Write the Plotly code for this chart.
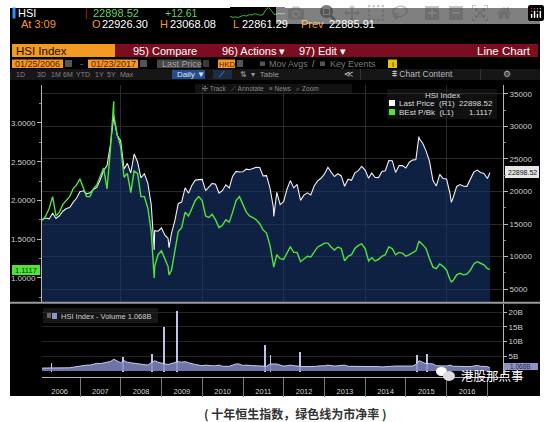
import plotly.graph_objects as go
import pandas as pd

W, H = 550, 422

# ---- data -------------------------------------------------------------
start_date = "2006-01-25"
end_date = "2017-01-23"
month_ends = pd.date_range("2006-01-31", "2016-12-31", freq="ME")

# HSI last price, month-end closes 2006-01 .. 2016-12
price_monthly = [
    15753, 15918, 15805, 16661, 15857, 16267, 16971, 17392, 17543, 18324, 18960, 19965,
    20106, 19651, 19801, 20319, 20635, 21773, 23185, 23984, 27143, 31352, 28643, 27813,
    23456, 24332, 22849, 25755, 24533, 22102, 22731, 21262, 18016, 13969, 13888, 14387,
    13278, 12812, 13576, 15521, 18171, 18379, 20573, 19724, 20955, 21753, 21822, 21873,
    20122, 20609, 21239, 21108, 19765, 20129, 21030, 20537, 22358, 23096, 23008, 23035,
    23447, 23338, 23528, 23720, 23684, 22398, 22440, 20535, 17592, 19864, 17989, 18434,
    20390, 21680, 20556, 21094, 18630, 19441, 19796, 19482, 20840, 21642, 22030, 22657,
    23730, 23020, 22300, 22737, 22392, 20803, 21883, 21731, 22860, 23206, 23881, 23306,
    22035, 22837, 22151, 22134, 23082, 23191, 24757, 24742, 22933, 23998, 23987, 23605,
    24507, 24823, 24901, 28133, 27424, 26250, 24636, 21670, 20846, 22640, 21996, 21914,
    19683, 19112, 20777, 21067, 20815, 20794, 21891, 22977, 23297, 22935, 22790, 22001,
]
# BEst P/Bk, same months
pb_monthly = [
    1.75, 1.80, 1.90, 2.05, 1.80, 1.85, 1.95, 2.00, 2.05, 2.15, 2.20, 2.28,
    2.15, 2.05, 2.05, 2.15, 2.20, 2.30, 2.42, 2.15, 2.65, 3.10, 2.85, 2.70,
    2.30, 2.35, 2.10, 2.38, 2.35, 2.05, 2.05, 1.90, 1.60, 1.15, 1.30, 1.35,
    1.25, 1.15, 1.10, 1.35, 1.60, 1.65, 1.85, 1.80, 1.90, 2.00, 2.05, 2.00,
    1.80, 1.78, 1.82, 1.75, 1.65, 1.68, 1.75, 1.72, 1.85, 2.00, 2.05, 1.95,
    1.85, 1.80, 1.78, 1.75, 1.70, 1.62, 1.58, 1.42, 1.18, 1.30, 1.25, 1.24,
    1.32, 1.40, 1.33, 1.33, 1.21, 1.25, 1.28, 1.27, 1.34, 1.40, 1.42, 1.45,
    1.45, 1.40, 1.36, 1.40, 1.38, 1.22, 1.28, 1.30, 1.38, 1.42, 1.44, 1.38,
    1.22, 1.26, 1.22, 1.24, 1.28, 1.30, 1.40, 1.38, 1.30, 1.33, 1.32, 1.28,
    1.30, 1.32, 1.35, 1.47, 1.43, 1.38, 1.25, 1.14, 1.12, 1.18, 1.15, 1.10,
    0.98, 0.97, 1.04, 1.06, 1.04, 1.05, 1.10, 1.18, 1.21, 1.19, 1.17, 1.12,
]
# intra-month turning points
extreme_dates = ["2007-10-30", "2008-10-27", "2009-03-09", "2011-10-04", "2015-04-27", "2016-02-12"]
extreme_price = [31638, 11016, 11345, 16170, 28443, 18320]
extreme_pb = [3.28, 1.00, 1.04, 1.14, 1.47, 0.95]
start_price, start_pb = 15600, 1.75
last_price, last_pb = 22898.52, 1.1117

# HSI volume (billions), monthly level and single-day spikes
volume_monthly = [
    1.0, 1.0, 1.0, 1.2, 1.2, 1.0, 1.0, 1.0, 1.1, 1.3, 1.5, 1.6,
    1.8, 2.0, 2.0, 2.2, 2.6, 2.5, 2.8, 3.0, 3.2, 4.0, 3.5, 2.8,
    3.5, 3.0, 2.8, 2.6, 2.5, 2.2, 2.2, 2.0, 2.8, 3.5, 3.0, 2.6,
    2.4, 2.2, 2.5, 2.8, 3.2, 3.0, 3.2, 2.8, 2.4, 2.2, 2.0, 1.8,
    2.0, 1.8, 1.8, 1.8, 2.0, 1.6, 1.6, 1.6, 2.0, 2.4, 2.4, 1.9,
    2.0, 1.8, 1.8, 1.8, 1.8, 1.7, 1.6, 2.4, 2.5, 2.4, 2.0, 1.7,
    1.8, 2.0, 1.8, 1.6, 1.6, 1.5, 1.5, 1.4, 1.5, 1.7, 1.7, 1.8,
    2.0, 1.8, 1.7, 1.8, 1.8, 2.0, 1.6, 1.6, 1.7, 1.6, 1.7, 1.6,
    1.6, 1.5, 1.6, 1.5, 1.4, 1.5, 1.7, 1.8, 1.7, 1.7, 1.7, 1.8,
    1.8, 1.7, 2.2, 3.5, 3.0, 2.5, 2.5, 2.4, 1.8, 1.8, 1.6, 1.7,
    2.0, 1.6, 1.6, 1.5, 1.4, 1.5, 1.5, 1.7, 1.9, 1.6, 1.6, 1.5,
]
start_volume, last_volume = 1.0, 1.068
spike_dates = ["2006-04-20", "2008-01-22", "2008-10-10", "2009-01-20", "2009-05-20",
               "2011-07-20", "2011-09-05", "2012-05-25", "2015-04-09", "2015-07-08"]
spike_volume = [3.0, 5.0, 6.0, 15.0, 20.5, 9.0, 5.5, 6.5, 5.5, 5.8]

# intraday sparkline in the header
spark = [3.0, 2.4, 2.6, 2.3, 3.0, 3.4, 3.1, 3.9, 3.7, 4.4, 4.1, 3.6, 3.8, 6.8, 8.0, 6.4,
         4.0, 4.2, 4.6, 4.3, 4.8]

# ---- assemble series ---------------------------------------------------
main = pd.DataFrame({
    "date": [pd.Timestamp(start_date)] + list(month_ends) + [pd.Timestamp(d) for d in extreme_dates] + [pd.Timestamp(end_date)],
    "price": [start_price] + price_monthly + extreme_price + [last_price],
    "pb": [start_pb] + pb_monthly + extreme_pb + [last_pb],
}).sort_values("date")
vol = pd.DataFrame({
    "date": [pd.Timestamp(start_date)] + list(month_ends) + [pd.Timestamp(end_date)],
    "volume": [start_volume] + volume_monthly + [last_volume],
})


def px(x):
    return x / W


def py(y):
    return 1 - y / H


FONT = "Liberation Sans, Arial, sans-serif"
GRID = "#2a2a2a"
AXIS = "#b5b5b5"
GREEN = "#52e23c"

fig = go.Figure()

fig.add_trace(go.Scatter(
    x=main["date"], y=main["price"], xaxis="x", yaxis="y", mode="lines",
    line=dict(color="#f0f0f0", width=1.1),
    fill="tozeroy", fillcolor="rgba(24,54,108,0.62)", hoverinfo="skip"))
fig.add_trace(go.Scatter(
    x=main["date"], y=main["pb"], xaxis="x", yaxis="y2", mode="lines",
    line=dict(color=GREEN, width=1.4), hoverinfo="skip"))
fig.add_trace(go.Scatter(
    x=vol["date"], y=vol["volume"], xaxis="x2", yaxis="y3", mode="lines",
    line=dict(color="#d8dbf4", width=0.9),
    fill="tozeroy", fillcolor="rgba(128,136,196,0.85)", hoverinfo="skip"))
fig.add_trace(go.Bar(
    x=spike_dates, y=spike_volume, xaxis="x2", yaxis="y3", width=7e8,
    marker=dict(color="#bfc3ea", line_width=0), hoverinfo="skip"))
fig.add_trace(go.Scatter(
    x=list(range(len(spark))), y=spark, xaxis="x3", yaxis="y4", mode="lines",
    line=dict(color="#3fb43f", width=1), hoverinfo="skip"))

x_range = ["2006-01-25", "2017-05-20"]
tickfont = dict(family=FONT, size=8, color="#cfcfcf")

fig.update_layout(
    width=W, height=H, margin=dict(l=0, r=0, t=0, b=0),
    paper_bgcolor="white", plot_bgcolor="black", showlegend=False,
    font=dict(family=FONT),
    xaxis=dict(domain=[px(42), px(503)], range=x_range, type="date", anchor="y",
               showticklabels=False, ticks="", showgrid=True, gridcolor=GRID,
               tick0="2008-01-01", dtick="M24", zeroline=False),
    yaxis=dict(domain=[py(302), py(85)], side="right", anchor="x",
               range=[3006, 36380], tickvals=[5000, 10000, 15000, 20000, 25000, 30000, 35000],
               tickformat="d",
               ticks="outside", ticklen=4, tickcolor=AXIS, showline=True, linecolor=AXIS,
               showgrid=True, gridcolor=GRID, zeroline=False, tickfont=tickfont,
               minor=dict(ticks="outside", ticklen=2, dtick=2500, tickcolor="#888", showgrid=False)),
    yaxis2=dict(overlaying="y", side="left", anchor="x", range=[0.69, 3.49],
                tickvals=[1.0, 1.5, 2.0, 2.5, 3.0], tickformat=".4f",
                ticks="outside", ticklen=4, tickcolor=AXIS, showline=True, linecolor=AXIS,
                showgrid=False, zeroline=False, tickfont=tickfont,
                minor=dict(ticks="outside", ticklen=2, dtick=0.25, tickcolor="#888")),
    xaxis2=dict(domain=[px(42), px(503)], range=x_range, type="date", anchor="y3",
                tick0="2006-01-01", dtick="M12", ticklabelmode="period",
                ticks="outside", ticklen=19, tickcolor="#777", showline=True, linecolor=AXIS,
                showgrid=False, zeroline=False, ticklabelstandoff=-12,
                tickfont=dict(family=FONT, size=7.5, color="#cfcfcf")),
    yaxis3=dict(domain=[py(376.5), py(303.5)], side="right", anchor="x2",
                range=[-1.87, 22.96], tickvals=[5, 10, 15, 20],
                ticktext=["5B", "10B", "15B", "20B"], ticks="outside", ticklen=3,
                tickcolor=AXIS, showline=True, linecolor=AXIS, showgrid=True,
                gridcolor="#262626", zeroline=False, tickfont=tickfont),
    xaxis3=dict(domain=[px(230), px(285)], anchor="y4", visible=False),
    yaxis4=dict(domain=[py(18), py(7)], anchor="x3", visible=False),
    bargap=0,
)

shapes = []


def rect(x0, y0, x1, y1, color, line=None):
    shapes.append(dict(type="rect", xref="paper", yref="paper",
                       x0=px(x0), x1=px(x1), y0=py(y1), y1=py(y0),
                       fillcolor=color, line=dict(width=0) if line is None else line,
                       layer="below"))


# screenshot frame and toolbar bars
rect(10, 8, 540, 396, "black")
rect(12.5, 7.5, 15.5, 18.5, "#2f8fff")
rect(12, 44, 115, 57, "#f39a25")
rect(115, 44, 538, 57, "#7c0c1f")
rect(10, 69, 540, 80, "#161616")
rect(12, 59.5, 63, 68, "#f39a25")
rect(65, 60, 72, 67, "#555")
rect(88, 59.5, 138, 68, "#f39a25")
rect(140, 60, 147, 67, "#555")
rect(157, 59.5, 201, 68, "#474747")
rect(203, 60, 209, 67, "#3a3a3a")
rect(218, 59.5, 235, 68, "#f39a25")
rect(237, 60, 243, 67, "#555")
rect(260, 61.5, 265, 66, "#555")
rect(320, 61.5, 325, 66, "#555")
rect(388, 59.5, 397, 68, "#e8c400")
rect(172, 70, 205, 79, "#1e4f91")
rect(213, 70, 232, 79, "#1d2c44")
rect(360, 69, 361, 80, "#333")
rect(480, 69, 481, 80, "#333")
rect(195, 84, 352, 93, "#121212")
# legend box
rect(387, 89, 497, 119, "#101010")
rect(389, 100, 395, 106, "white")
rect(389, 109, 395, 115, GREEN)
# last value tags
rect(505, 166, 539, 178, "#e6e6e6")
rect(12, 265, 40, 275, GREEN)
rect(503, 363, 538, 370, "#8d93c8")
# volume legend
rect(43, 308, 158, 323, "#161616")
rect(47, 313, 51, 318, "#666")
rect(52, 312, 57, 319, "#8d93c8")
# pane separator
shapes.append(dict(type="line", xref="paper", yref="paper", x0=px(10), x1=px(540),
                   y0=py(302.8), y1=py(302.8), line=dict(color="#9a9a9a", width=2)))
# wechat bubbles
shapes.append(dict(type="circle", xref="paper", yref="paper", x0=px(436), x1=px(447),
                   y0=py(376), y1=py(367), fillcolor="white", line=dict(width=0)))
shapes.append(dict(type="circle", xref="paper", yref="paper", x0=px(443), x1=px(455),
                   y0=py(381), y1=py(371), fillcolor="#dddddd", line=dict(width=0)))
fig.update_layout(shapes=shapes)

ann = []


def label(x, y, text, size=9, color="#dddddd", anchor="left", family=FONT):
    ann.append(dict(xref="paper", yref="paper", x=px(x), y=py(y), text=text,
                    showarrow=False, xanchor=anchor, yanchor="middle",
                    font=dict(family=family, size=size, color=color)))


ORANGE = "#f39a25"
# header rows
label(16, 13, "HSI", 11, "white")
label(83, 13, "|", 10, "#d2233a")
label(91, 13, "22898.52", 11, "#5fd35f")
label(163, 13, "+12.61", 10.5, "#5fd35f")
label(19, 24, "At 3:09", 11, ORANGE)
label(90, 24, "O", 11, ORANGE)
label(100, 24, "22926.30", 11, "white")
label(158, 24, "H", 11, ORANGE)
label(168, 24, "23068.08", 11, "white")
label(231, 24, "L", 11, ORANGE)
label(240, 24, "22861.29", 11, "white")
label(299, 24, "Prev", 11, ORANGE)
label(327, 24, "22885.91", 11, "white")
label(14, 50.5, "HSI Index", 11.5, "#1a0c00")
label(131, 50.5, "95) Compare", 11, "white")
label(220, 50.5, "96) Actions ▾", 11, "white")
label(297, 50.5, "97) Edit ▾", 11, "white")
label(533, 50.5, "Line Chart", 11.5, "white", "right")
label(12.5, 64, "01/25/2006", 9, "#5a1a00")
label(78, 64, "-", 9, "#888")
label(88.5, 64, "01/23/2017", 9, "#5a1a00")
label(160, 64, "Last Price", 9, "#a0a0a0")
label(226.5, 64, "HKD", 7.5, "#5a1a00", "center")
label(267, 64, "Mov Avgs", 9, "#7a7a7a")
label(310, 64, "/", 9, "#9a9a9a")
label(328, 64, "Key Events", 9, "#7a7a7a")
label(392.5, 64, "i", 8, "#222", "center")
for x, t in [(14, "1D"), (35, "3D"), (49, "1M"), (61, "6M"), (74, "YTD"), (93, "1Y"),
             (105, "5Y"), (118, "Max")]:
    label(x, 74.5, t, 7, "#858585")
label(175, 74.5, "Daily ▼", 8, "#e6e6e6")
label(217, 74.5, "⟋", 8, "#8fb4e0")
label(238, 74.5, "⇅  ▾  Table", 8, "#9a9a9a")
label(342, 74.5, "≪", 9, "#bbbbbb")
label(390, 74.5, "⩨ Chart Content", 8.5, "#bbbbbb")
label(507, 74.5, "⚙", 9, "#bbbbbb", "center")
label(200, 88.5, "✣ Track   ⟋ Annotate   ≡ News   ⌕ Zoom", 6.5, "#888888")
# legend
label(442, 95, "HSI Index", 8, "#dddddd", "center")
label(397, 103, "Last Price  (R1)  22898.52", 8, "#dddddd")
label(397, 112, "BEst P/Bk  (L1)", 8, "#dddddd")
label(495, 112, "1.1117", 8, "#dddddd", "right")
# value tags
label(522, 172, "22898.52", 7, "#111", "center")
label(26, 270, "1.1117", 7.5, "#0b3a0b", "center")
label(520.5, 366.5, "1.068B", 6.5, "#22264a", "center")
label(59, 316, "HSI Index - Volume 1.068B", 7.5, "#cfcfcf")
# watermark and caption
label(459, 375, "港股那点事", 12.5, "white", family="Noto Sans CJK SC")
label(295, 413, "<b>( 十年恒生指数，绿色线为市净率 )</b>", 12, "#333333", "center",
      family="Noto Sans CJK SC")
fig.update_layout(annotations=ann)

fig.write_html("out.html", post_script="document.body.style.margin='0';")
